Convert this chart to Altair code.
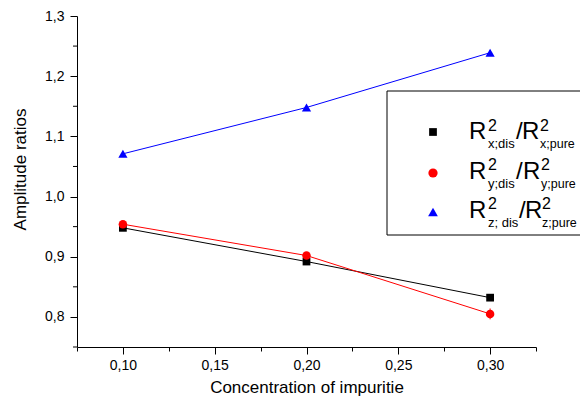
import altair as alt
import pandas as pd

# ---- data ----
conc = [0.10, 0.20, 0.30]
ratio_x = [0.948, 0.892, 0.832]
ratio_y = [0.954, 0.902, 0.805]
ratio_z = [1.071, 1.148, 1.239]
err_x = [0.003, 0.003, 0.005]
err_y = [0.003, 0.003, 0.009]
err_z = [0.003, 0.003, 0.004]
series_names = ["x", "y", "z"]
series_colors = ["#000000", "#ff0000", "#0000ff"]
series_shapes = ["square", "circle", "triangle-up"]
series_sizes = [60, 85, 95]

x_ticks = [0.075, 0.1, 0.125, 0.15, 0.175, 0.2, 0.225, 0.25, 0.275, 0.3, 0.325]
y_major_ticks = [0.8, 0.9, 1.0, 1.1, 1.2, 1.3]
y_minor_ticks = [0.75, 0.85, 0.95, 1.05, 1.15, 1.25]

rows = []
for name, vals, errs in zip(series_names, [ratio_x, ratio_y, ratio_z], [err_x, err_y, err_z]):
    for c, v, e in zip(conc, vals, errs):
        rows.append({"series": name, "conc": c, "ratio": v, "lo": v - e, "hi": v + e})
df = pd.DataFrame(rows)

FONT = "Liberation Sans"

color = alt.Color("series:N", scale=alt.Scale(domain=series_names, range=series_colors), legend=None)
shape = alt.Shape("series:N", scale=alt.Scale(domain=series_names, range=series_shapes), legend=None)
size = alt.Size("series:N", scale=alt.Scale(domain=series_names, range=series_sizes), legend=None)

x_major = "abs(datum.value*20 - round(datum.value*20)) < 0.001"

x_enc = alt.X(
    "conc:Q",
    title="Concentration of impuritie",
    scale=alt.Scale(domain=[0.075, 0.325], nice=False, zero=False),
    axis=alt.Axis(
        values=x_ticks,
        labelExpr=f"{x_major} ? replace(format(datum.value, '.2f'), '.', ',') : ''",
        tickSize={"condition": {"test": x_major, "value": 7}, "value": 4},
        labelPadding=4,
        titlePadding=7,
        labelFlush=False,
        labelOverlap=False,
    ),
)
y_enc = alt.Y(
    "ratio:Q",
    title="Amplitude ratios",
    scale=alt.Scale(domain=[0.75, 1.3], nice=False, zero=False),
    axis=alt.Axis(
        values=y_major_ticks,
        format=".1f",
        labelExpr="replace(datum.label, '.', ',')",
        tickSize=7,
        labelPadding=6,
        titlePadding=15,
        titleY=153,
        labelFlush=False,
        labelOverlap=False,
    ),
)

base = alt.Chart(df)

lines = base.mark_line(strokeWidth=1).encode(x=x_enc, y=y_enc, color=color, detail="series:N")
bars = base.mark_rule(strokeWidth=1).encode(x="conc:Q", y="lo:Q", y2="hi:Q", color=color)
points = base.mark_point(filled=True, opacity=1).encode(x="conc:Q", y="ratio:Q", color=color, shape=shape, size=size)

# minor y ticks drawn through the y scale
minor_y = alt.Chart(alt.Data(values=[{"ratio": v} for v in y_minor_ticks])).mark_rule(
    color="black", strokeWidth=1
).encode(y="ratio:Q", x=alt.value(-4), x2=alt.value(0))

one = alt.Data(values=[{"k": 1}])

# legend box (decoration)
legend_box = alt.Chart(one).mark_rect(fill="white", stroke="black", strokeWidth=1).encode(
    x=alt.value(310), x2=alt.value(700), y=alt.value(75), y2=alt.value(219)
)

layers = [legend_box, lines, bars, points, minor_y]

marker_y = [116, 157, 196]
for col, shp, sz, my in zip(series_colors, series_shapes, series_sizes, marker_y):
    layers.append(
        alt.Chart(one).mark_point(filled=True, opacity=1, shape=shp, size=sz, color=col).encode(
            x=alt.value(356), y=alt.value(my)
        )
    )

# legend labels: R^2_{s;dis} / R^2_{s;pure}
line_base = [123, 162.5, 201.5]
sub_dis = ["x;dis", "y;dis", "z; dis"]
sub_pure = ["x;pure", "y;pure", "z;pure"]
slash_x = [439, 439, 442]
r2_x = [445, 446, 448]
s2_x = [463, 464, 465]


def txt(t, x, y, fs):
    return alt.Chart(one).mark_text(
        text=t, align="left", baseline="alphabetic", font=FONT, fontSize=fs, color="black"
    ).encode(x=alt.value(x), y=alt.value(y))


for i in range(3):
    b = line_base[i]
    layers += [
        txt("R", 392, b, 24),
        txt("2", 411, b - 8.5, 16),
        txt(sub_dis[i], 411, b + 9, 13),
        txt("/", slash_x[i], b, 24),
        txt("R", r2_x[i], b, 24),
        txt("2", s2_x[i], b - 8.5, 16),
        txt(sub_pure[i], s2_x[i], b + 9, 12.5),
    ]

chart = (
    alt.layer(*layers)
    .properties(
        width=459,
        height=331,
        padding={"left": 69, "top": 8, "right": 44, "bottom": 51},
        autosize=alt.AutoSizeParams(type="none"),
    )
    .configure_view(stroke=None)
    .configure_axis(
        grid=False,
        domainColor="black",
        tickColor="black",
        labelColor="black",
        titleColor="black",
        labelFont=FONT,
        titleFont=FONT,
        labelFontSize=14,
        titleFontSize=17,
        titleFontWeight="normal",
        domainWidth=1,
        tickWidth=1,
    )
)

chart.save("out.html", embed_options={"renderer": "svg", "actions": False})
